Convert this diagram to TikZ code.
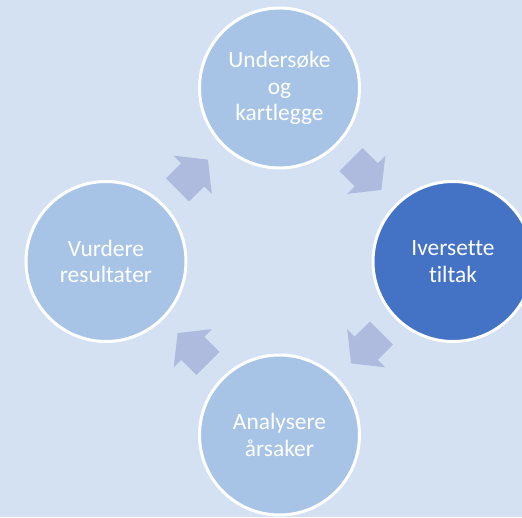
\documentclass[tikz,border=0pt]{standalone}
\usepackage{fontspec}
\setmainfont[Ligatures={NoCommon}]{Carlito}
\usepackage{tikz}
\usetikzlibrary{calc}

\definecolor{bgblue}{HTML}{D3E1F3}
\definecolor{circleblue}{HTML}{A7C4E7}
\definecolor{darkblue}{HTML}{4472C4}
\definecolor{arrowblue}{HTML}{AEBBDE}

\tikzset{cyclearrow/.pic={
  \fill[arrowblue] (-21.4,-16.3) -- (0,-16.3) -- (0,-27) -- (21.4,0)
    -- (0,27) -- (0,16.3) -- (-21.4,16.3) -- cycle;
}}

\begin{document}
\begin{tikzpicture}[x=1pt, y=1pt,
  every node/.style = {shape=circle, draw=white, line width=3pt,
    fill=circleblue, minimum size=160pt, inner sep=0pt,
    align=center, text=white,
    font=\fontsize{23.4}{26.5}\selectfont}]
  \fill[bgblue] (-279.5,-255.5) rectangle (242.5,261.5);
  \useasboundingbox (-279.5,-255.5) rectangle (242.5,261.5);

  \node (und) at (0,173.5) {Undersøke\\og\\kartlegge};
  \node[fill=darkblue] (ive) at (173.5,0) {Iversette\\tiltak};
  \node (ana) at (0,-173.5) {Analysere\\årsaker};
  \node (vur) at (-173.5,0) {Vurdere\\resultater};

  % arrows round the cycle
  \pic[rotate=-45] at ($(und)!0.5!(ive)$) {cyclearrow};
  \pic[rotate=-135] at ($(ive)!0.5!(ana)$) {cyclearrow};
  \pic[rotate=135] at ($(ana)!0.5!(vur)$) {cyclearrow};
  \pic[rotate=45] at ($(vur)!0.5!(und)$) {cyclearrow};
\end{tikzpicture}
\end{document}
